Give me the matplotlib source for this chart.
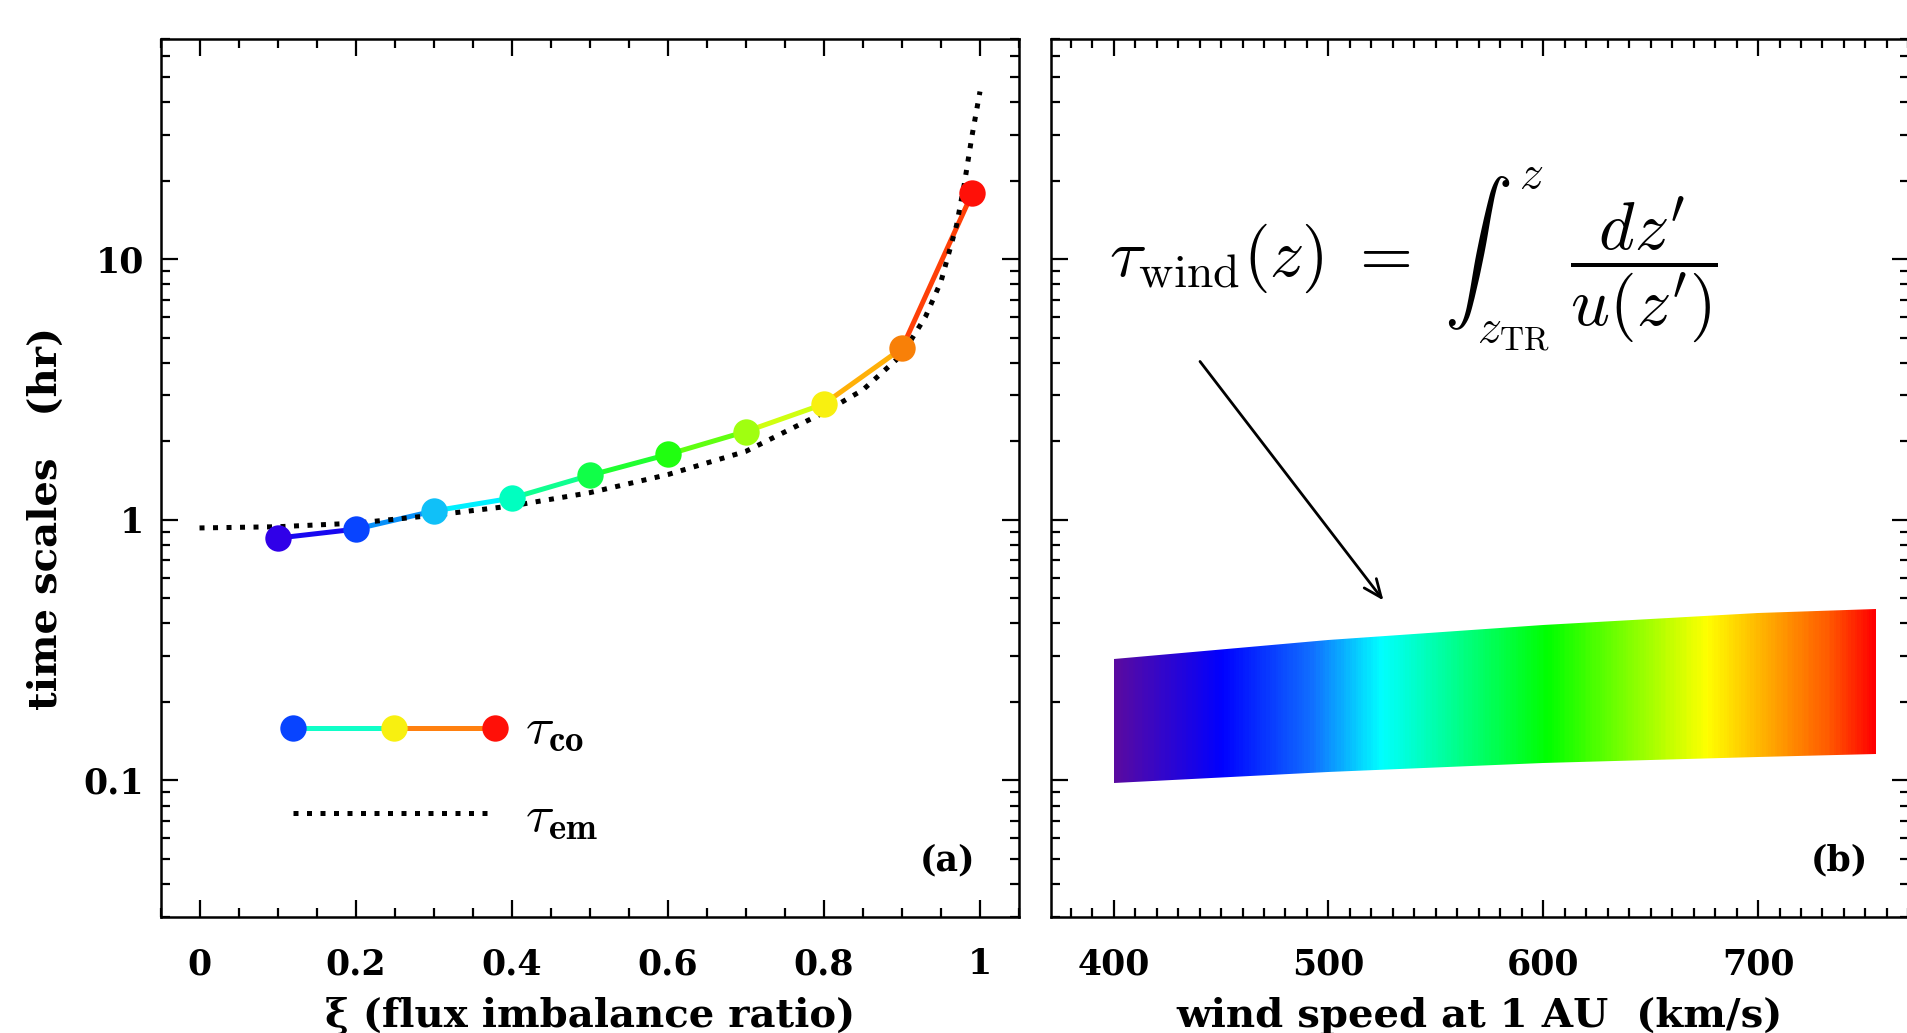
import numpy as np
import matplotlib
matplotlib.use("Agg")
import matplotlib.pyplot as plt
from matplotlib.ticker import MultipleLocator, LogLocator, FuncFormatter, NullFormatter
from matplotlib.colors import LinearSegmentedColormap

plt.rcParams['mathtext.fontset'] = 'cm'

# ---------------- data ----------------
# panel (a): tau_co vs xi
xi_co = [0.1, 0.2, 0.3, 0.4, 0.5, 0.6, 0.7, 0.8, 0.9, 0.99]
tau_co = [0.85, 0.92, 1.08, 1.21, 1.48, 1.78, 2.18, 2.78, 4.55, 17.9]
marker_colors = ['#3000e8', '#0844ff', '#10c0f8', '#00ffc0', '#10ff48',
                 '#20ff10', '#a0ff10', '#f8f010', '#f88008', '#ff1008']
segment_colors = ['#1808f0', '#0890f8', '#00f0ff', '#10ff90', '#20ff30',
                  '#60ff10', '#d0ff10', '#ffb008', '#ff4008']

# panel (a): tau_em (dotted)
xi_em = [0.0, 0.1, 0.2, 0.3, 0.4, 0.5, 0.6, 0.7, 0.8, 0.85, 0.9, 0.93,
         0.95, 0.97, 0.98, 0.99, 1.0]
tau_em = [0.93, 0.94, 0.97, 1.04, 1.13, 1.27, 1.49, 1.83, 2.58, 3.15, 4.3,
          6.0, 8.2, 13.5, 19.5, 30.0, 44.0]

# legend sample colours
legend_marker_colors = ['#0844ff', '#f8f010', '#ff1008']
legend_segment_colors = ['#10ffc8', '#ff8010']

# panel (b): band of tau_wind vs wind speed
speed = [400, 500, 600, 700, 755]
tau_wind_top = [0.292, 0.346, 0.396, 0.437, 0.454]
tau_wind_bot = [0.098, 0.108, 0.116, 0.123, 0.126]

xticks_a = [0, 0.2, 0.4, 0.6, 0.8, 1.0]
xticks_b = [400, 500, 600, 700]
yticks = [0.1, 1, 10]

# ---------------- figure ----------------
W, H = 1907, 1033
fig = plt.figure(figsize=(W / 100, H / 100), dpi=100)

axw = 858.5 / W
axh = (916.5 - 39) / H
bot = 1 - 916.5 / H
ax1 = fig.add_axes([160.5 / W, bot, axw, axh])
ax2 = fig.add_axes([1050.5 / W, bot, axw, axh])

tickfont = dict(family='DejaVu Serif', weight='bold', size=25)

for ax in (ax1, ax2):
    ax.set_yscale('log')
    ax.set_ylim(0.03, 70)
    for s in ax.spines.values():
        s.set_linewidth(1.8)
    ax.tick_params(which='both', direction='in', top=True, right=True,
                   width=1.6, colors='black')
    ax.tick_params(which='major', length=12)
    ax.tick_params(which='minor', length=6.5)
    ax.yaxis.set_major_locator(LogLocator(base=10, numticks=10))
    ax.yaxis.set_minor_locator(LogLocator(base=10, subs=np.arange(2, 10), numticks=20))
    ax.yaxis.set_minor_formatter(NullFormatter())
    ax.tick_params(axis='x', which='major', pad=22)
    ax.tick_params(axis='y', which='major', pad=12)

fmt = FuncFormatter(lambda v, p: '%g' % v)

# ----- panel (a) -----
ax1.set_xlim(-0.05, 1.05)
ax1.xaxis.set_major_locator(MultipleLocator(0.2))
ax1.xaxis.set_minor_locator(MultipleLocator(0.05))
ax1.xaxis.set_major_formatter(fmt)
ax1.yaxis.set_major_formatter(fmt)
for lab in ax1.get_xticklabels() + ax1.get_yticklabels():
    lab.set(**tickfont)

for i in range(len(xi_co) - 1):
    ax1.plot(xi_co[i:i + 2], tau_co[i:i + 2], color=segment_colors[i],
             lw=3.6, solid_capstyle='round', zorder=2)
ax1.plot(xi_em, tau_em, color='black', lw=3.6, linestyle=(0, (1, 1.7)),
         dash_capstyle='butt', zorder=3)
for x, y, c in zip(xi_co, tau_co, marker_colors):
    ax1.plot([x], [y], 'o', ms=19, color=c, mec='none', zorder=4)

# legend drawn by hand
lx = [0.1544, 0.272, 0.3895]
ly = 0.2153
for i in range(2):
    ax1.plot(lx[i:i + 2], [ly, ly], transform=ax1.transAxes,
             color=legend_segment_colors[i], lw=3.6, zorder=2)
for x, c in zip(lx, legend_marker_colors):
    ax1.plot([x], [ly], 'o', ms=19, color=c, mec='none',
             transform=ax1.transAxes, zorder=4)
ax1.text(0.425, ly - 0.001, r'$\tau_{\mathbf{co}}$', transform=ax1.transAxes,
         fontsize=38, ha='left', va='center')
ax1.plot([lx[0], lx[2]], [0.118, 0.118], transform=ax1.transAxes,
         color='black', lw=3.6, linestyle=(0, (1, 1.7)), dash_capstyle='butt')
ax1.text(0.425, 0.115, r'$\tau_{\mathbf{em}}$', transform=ax1.transAxes,
         fontsize=38, ha='left', va='center')

ax1.text(0.917, 0.064, '(a)', transform=ax1.transAxes, ha='center',
         va='center', **tickfont)

# ----- panel (b) -----
ax2.set_xlim(370.6, 370.6 + 858.5 / 2.148)
ax2.xaxis.set_major_locator(MultipleLocator(100))
ax2.xaxis.set_minor_locator(MultipleLocator(10))
ax2.xaxis.set_major_formatter(fmt)
ax2.yaxis.set_major_formatter(NullFormatter())
for lab in ax2.get_xticklabels():
    lab.set(**tickfont)

rainbow = LinearSegmentedColormap.from_list('idl_rainbow', [
    (0.00, '#5a0aa0'), (0.14, '#0000ff'), (0.26, '#1070ff'),
    (0.35, '#00ffff'), (0.57, '#00ff00'), (0.78, '#ffff00'),
    (0.87, '#ffa000'), (0.94, '#ff5a00'), (1.00, '#ff0000')])

poly = ax2.fill_between(speed, tau_wind_bot, tau_wind_top, color='none', lw=0)
nx = 400
xe = np.linspace(speed[0], speed[-1], nx + 1)
ye = np.array([0.08, 0.6])
cvals = np.linspace(0, 1, nx).reshape(1, -1)
mesh = ax2.pcolormesh(xe, ye, cvals, cmap=rainbow, shading='flat',
                      antialiased=False, rasterized=False)
mesh.set_clip_path(poly.get_paths()[0], ax2.transData)

ax2.annotate('', xy=(525.6, 0.49), xytext=(440.2, 4.05),
             arrowprops=dict(arrowstyle='->,head_length=1.3,head_width=0.55',
                             color='black', lw=2.0, shrinkA=0, shrinkB=0))

ax2.text(397.8, 10, r"$\tau_{\rm wind}(z)\ =\ \int_{z_{\rm TR}}^{z}\ \dfrac{dz^{\prime}}{u(z^{\prime})}$",
         fontsize=49, ha='left', va='center')

ax2.text(0.919, 0.064, '(b)', transform=ax2.transAxes, ha='center',
         va='center', **tickfont)
ax2.set_ylim(0.03, 70)

# axis labels
labfont = dict(family='DejaVu Serif', weight='bold', size=29)
fig.text((160.5 + 858.5 / 2) / W, 6 / H, r'ξ (flux imbalance ratio)',
         ha='center', va='baseline', **labfont)
fig.text((1050.5 + 858.5 / 2) / W, 6 / H, 'wind speed at 1 AU  (km/s)',
         ha='center', va='baseline', **labfont)
fig.text(46 / W, 0.4985, 'time scales   (hr)', rotation=90, ha='center',
         va='center', **labfont)

fig.savefig('out.png', dpi=100)
